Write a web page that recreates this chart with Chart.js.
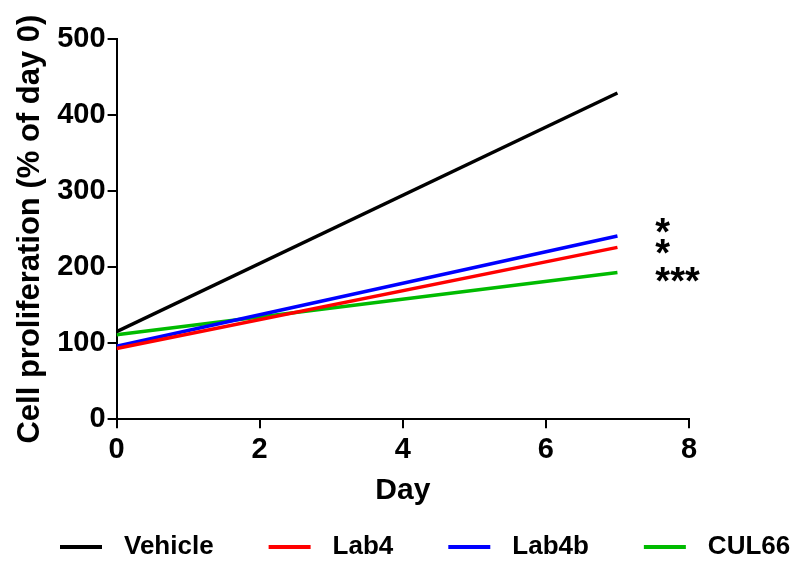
<!DOCTYPE html>
<html lang="en">
<head>
    <meta charset="UTF-8">
    <title>Cell proliferation</title>
    <script src="https://cdn.jsdelivr.net/npm/chart.js"></script>
    <style>
        body { margin: 0; background: #fff; }
        .wrap { width: 795px; height: 562px; position: relative; }
    </style>
</head>
<body>
    <div class="wrap"><canvas id="prolifChart"></canvas></div>

    <script>
        // data
        const days = [0, 7];
        const seriesNames = ['Vehicle', 'Lab4', 'Lab4b', 'CUL66'];
        const vehicle = [115, 429];
        const lab4 = [93, 226];
        const lab4b = [96, 241];
        const cul66 = [111, 193];
        const seriesColors = ['#000000', '#ff0000', '#0000ff', '#00bb00'];
        const xTicks = [0, 2, 4, 6, 8];
        const yTicks = [0, 100, 200, 300, 400, 500];

        // significance marks next to the line ends
        const starLabels = ['*', '*', '***'];
        const starX = [7.53, 7.53, 7.53];
        const starY = [257, 230, 193];

        const FONT = "'Liberation Sans', Arial, sans-serif";

        function toPoints(values) {
            return days.map((d, i) => ({ x: d, y: values[i] }));
        }

        const allValues = [vehicle, lab4, lab4b, cul66];
        const datasets = seriesNames.map((name, i) => ({
            label: name,
            data: toPoints(allValues[i]),
            borderColor: seriesColors[i],
            backgroundColor: seriesColors[i],
            borderWidth: 3.5,
            pointRadius: 0,
            showLine: true,
            fill: false
        }));

        const starPlugin = {
            id: 'stars',
            afterDatasetsDraw(chart) {
                const ctx = chart.ctx;
                const xs = chart.scales.x, ys = chart.scales.y;
                ctx.save();
                ctx.fillStyle = '#000';
                ctx.font = 'bold 38px ' + FONT;
                ctx.textAlign = 'left';
                ctx.textBaseline = 'alphabetic';
                starLabels.forEach((s, i) => {
                    ctx.fillText(s, xs.getPixelForValue(starX[i]), ys.getPixelForValue(starY[i]) + 38 * 0.57);
                });
                ctx.restore();
            }
        };

        // one-row legend under the axis title (built-in one wraps at this width)
        const rowLegend = {
            id: 'rowLegend',
            afterDraw(chart) {
                const ctx = chart.ctx;
                const y = chart.height - 15;
                let x = 60;
                ctx.save();
                ctx.font = 'bold 26px ' + FONT;
                ctx.textBaseline = 'middle';
                ctx.textAlign = 'left';
                chart.data.datasets.forEach(ds => {
                    ctx.strokeStyle = ds.borderColor;
                    ctx.lineWidth = 4;
                    ctx.beginPath();
                    ctx.moveTo(x, y);
                    ctx.lineTo(x + 42, y);
                    ctx.stroke();
                    x += 42 + 22;
                    ctx.fillStyle = '#000';
                    ctx.fillText(ds.label, x, y);
                    x += ctx.measureText(ds.label).width + 55;
                });
                ctx.restore();
            }
        };

        document.addEventListener('DOMContentLoaded', () => {
            const ctx = document.getElementById('prolifChart').getContext('2d');
            new Chart(ctx, {
                type: 'scatter',
                data: { datasets },
                options: {
                    responsive: true,
                    maintainAspectRatio: false,
                    animation: false,
                    layout: { padding: { left: 12, right: 106, top: 39, bottom: 49 } },
                    scales: {
                        x: {
                            type: 'linear',
                            min: 0,
                            max: 8,
                            afterBuildTicks: axis => { axis.ticks = xTicks.map(v => ({ value: v })); },
                            ticks: { color: '#000', font: { family: FONT, size: 29, weight: 'bold' }, padding: 4 },
                            grid: { drawOnChartArea: false, drawTicks: true, tickLength: 9, color: '#000', lineWidth: 2 },
                            border: { color: '#000', width: 2 },
                            title: { display: true, text: 'Day', color: '#000', font: { family: FONT, size: 30, weight: 'bold' }, padding: { top: 2, bottom: 4 } }
                        },
                        y: {
                            min: 0,
                            max: 500,
                            afterBuildTicks: axis => { axis.ticks = yTicks.map(v => ({ value: v })); },
                            ticks: { color: '#000', font: { family: FONT, size: 29, weight: 'bold' }, padding: 2 },
                            grid: { drawOnChartArea: false, drawTicks: true, tickLength: 9, color: '#000', lineWidth: 2 },
                            border: { color: '#000', width: 2 },
                            title: { display: true, text: 'Cell proliferation (% of day 0)', color: '#000', font: { family: FONT, size: 31, weight: 'bold' }, padding: { top: 0, bottom: 6 } }
                        }
                    },
                    plugins: {
                        legend: { display: false },
                        tooltip: { enabled: false }
                    }
                },
                plugins: [starPlugin, rowLegend]
            });
        });
    </script>
</body>
</html>
